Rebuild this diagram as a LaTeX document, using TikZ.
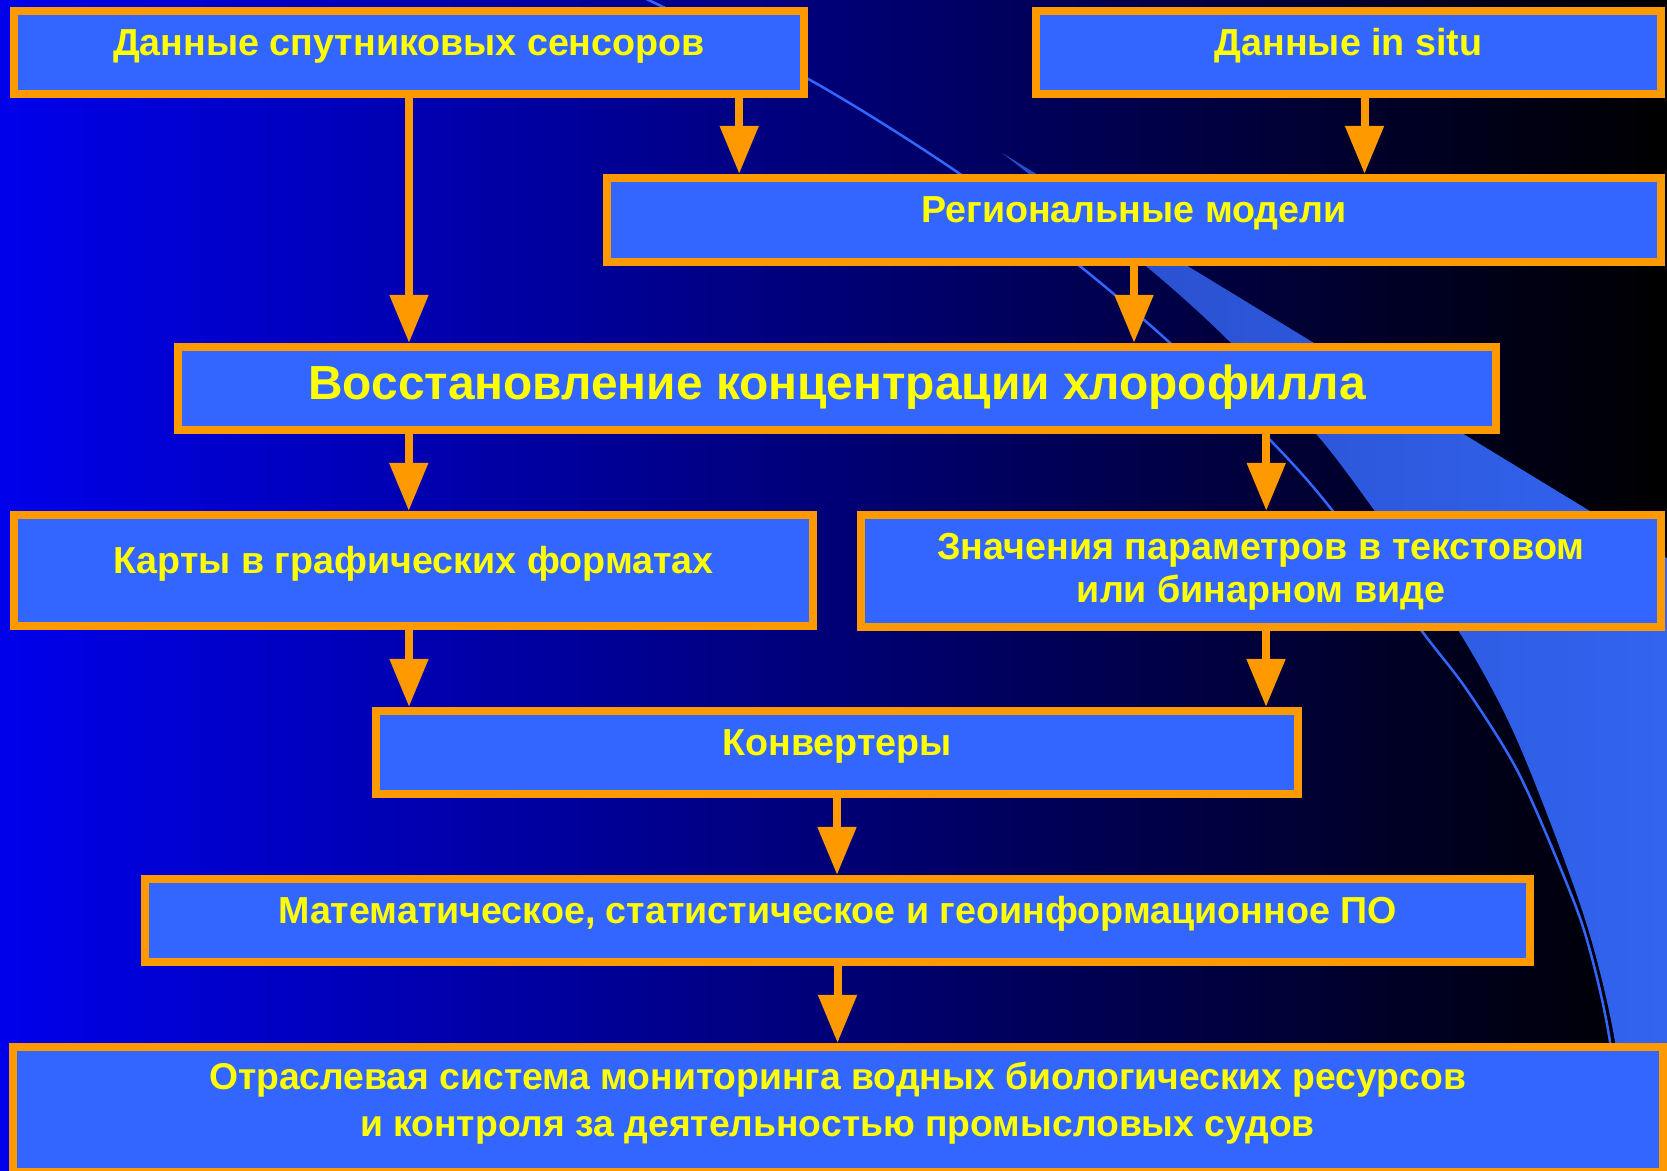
\documentclass[tikz,border=0pt]{standalone}
\usepackage{fontspec}
\setmainfont{Liberation Sans}
\usetikzlibrary{arrows.meta}
\definecolor{bgblue}{RGB}{0,0,235}
\definecolor{boxblue}{RGB}{51,102,255}
\definecolor{boxedge}{RGB}{255,153,0}
\definecolor{txtyellow}{RGB}{255,255,0}
\definecolor{bandl}{RGB}{40,76,200}
\definecolor{bandr}{RGB}{50,100,240}
\definecolor{thinblue}{RGB}{51,102,255}

\begin{document}
\begin{tikzpicture}[x=0.01cm,y=-0.01cm,>={Triangle[width=0.37cm,length=0.48cm]},
  box/.style={draw=boxedge,fill=boxblue,line width=0.08cm,inner sep=0pt,
    text=txtyellow,font=\bfseries\fontsize{10.7}{12.2}\selectfont,
    text height=0.31cm,text depth=0.25cm},
  twoline/.style={box,text height=0.80cm,text depth=0.18cm},
  arr/.style={->,draw=boxedge,fill=boxedge,line width=0.08cm}]
  \useasboundingbox (0,0) rectangle (1667,1171);
  \clip (0,0) rectangle (1667,1171);
  \shade[left color=bgblue,right color=black] (0,0) rectangle (1667,1171);
  \shade[left color=bandl,right color=bandr] (1002,153) -- (1667,558)
    -- (1667,1190) -- (1630,1190) -- plot[smooth] coordinates {(1630,1190)
    (1615,1042) (1583,913) (1517,740) (1458,630) (1374,510) (1317,435)
    (1230,342) (1147,267) (1002,153)} -- cycle;
  \draw[thinblue,line width=0.025cm] plot[smooth] coordinates {(640,-4)
    (810,80) (960,174) (1081,267) (1170,343) (1272,442) (1332,510)
    (1421,630) (1467,690) (1517,770) (1560,867) (1587,940) (1610,1042)
    (1624,1190)};

  \node[box,minimum width=7.90cm,minimum height=0.83cm] (sat) at (409,52.5)
    {Данные спутниковых сенсоров};
  \node[box,minimum width=6.25cm,minimum height=0.83cm] (situ) at (1348.5,52.5)
    {Данные in situ};
  \node[box,minimum width=10.54cm,minimum height=0.84cm] (reg) at (1134,220)
    {Региональные модели};
  \node[box,minimum width=13.18cm,minimum height=0.83cm,
    font=\bfseries\fontsize{13.6}{15.5}\selectfont,
    text height=0.35cm,text depth=0.12cm] (chl) at (837,388.5)
    {Восстановление концентрации хлорофилла};
  \node[box,minimum width=7.99cm,minimum height=1.11cm] (maps) at (413.5,570.5)
    {Карты в графических форматах};
  \node[twoline,minimum width=8.00cm,minimum height=1.12cm] (vals) at (1261,571)
    {\begin{tabular}[b]{@{}c@{}}Значения параметров в текстовом\\
    или бинарном виде\end{tabular}};
  \node[box,minimum width=9.22cm,minimum height=0.83cm] (conv) at (837,752.5)
    {Конвертеры};
  \node[box,minimum width=13.85cm,minimum height=0.83cm] (soft) at (837.5,920.5)
    {Математическое, статистическое и геоинформационное ПО};
  \node[twoline,minimum width=16.49cm,minimum height=1.25cm,
    font=\bfseries\fontsize{10.6}{13.1}\selectfont,text depth=0.27cm]
    (mon) at (837.5,1109.5)
    {\begin{tabular}[b]{@{}c@{}}Отраслевая система мониторинга водных биологических ресурсов\\
    и контроля за деятельностью промысловых судов\end{tabular}};

  \draw[arr] (sat) -- (sat |- chl.north);
  \draw[arr] ([xshift=3.3cm]sat.south) -- ([xshift=3.3cm]sat.south |- reg.north);
  \draw[arr] ([xshift=0.16cm]situ.south) -- ([xshift=0.16cm]situ.south |- reg.north);
  \draw[arr] (reg) -- (reg |- chl.north);
  \draw[arr] ([xshift=-4.28cm]chl.south) -- ([xshift=-4.28cm]chl.south |- maps.north);
  \draw[arr] ([xshift=4.29cm]chl.south) -- ([xshift=4.29cm]chl.south |- vals.north);
  \draw[arr] ([xshift=-0.045cm]maps.south) -- ([xshift=-0.045cm]maps.south |- conv.north);
  \draw[arr] ([xshift=0.05cm]vals.south) -- ([xshift=0.05cm]vals.south |- conv.north);
  \draw[arr] (conv) -- (conv |- soft.north);
  \draw[arr] (soft) -- (soft |- mon.north);
\end{tikzpicture}
\end{document}
